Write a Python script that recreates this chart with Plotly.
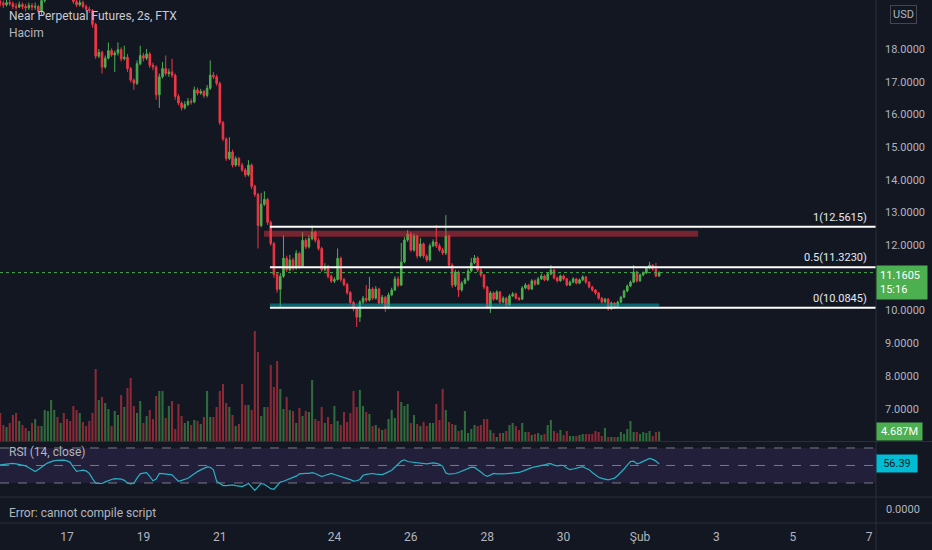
import pandas as pd
import plotly.graph_objects as go

# 2h bars, NEAR-PERP on FTX
bars_start = "2022-01-15 06:00"
first_open = 19.45

closes = [19.40, 19.35, 19.42, 19.38, 19.30, 19.28, 19.36, 19.30, 19.26, 19.33,
          19.28, 19.30, 19.15, 19.48, 19.62, 19.75, 19.85, 19.90, 19.80, 19.85,
          19.75, 19.70, 19.60, 19.45, 19.35, 19.42, 19.30, 19.22, 19.18, 18.75,
          17.78, 17.90, 17.45, 17.72, 17.95, 17.82, 17.88, 17.98, 17.70, 17.75,
          17.40, 17.05, 16.95, 17.55, 17.80, 17.72, 17.85, 17.50, 17.45, 16.60,
          17.15, 17.40, 17.25, 17.30, 17.20, 16.55, 16.35, 16.20, 16.30, 16.40,
          16.38, 16.75, 16.65, 16.70, 16.58, 16.80, 17.20, 17.15, 16.95, 15.75,
          15.25, 14.65, 14.85, 14.45, 14.65, 14.45, 14.30, 14.15, 14.45, 13.80,
          13.55, 12.60, 13.25, 13.40, 12.70, 12.05, 11.10, 10.65, 11.05, 11.60,
          11.25, 11.55, 11.30, 11.75, 11.35, 12.15, 11.95, 12.20, 12.40, 12.15,
          11.90, 11.25, 11.35, 11.05, 10.90, 10.95, 11.60, 10.95, 10.80, 10.55,
          10.25, 10.05, 9.80, 10.26, 10.38, 10.32, 10.66, 10.38, 10.66, 10.23,
          10.41, 10.08, 10.48, 10.63, 10.97, 10.78, 11.49, 12.16, 12.34, 11.85,
          12.28, 11.67, 12.04, 11.67, 11.55, 11.98, 12.10, 11.98, 11.85, 11.76,
          12.28, 11.39, 10.78, 11.18, 10.63, 10.84, 10.94, 11.21, 11.46, 11.61,
          11.24, 11.09, 10.72, 10.11, 10.54, 10.35, 10.57, 10.26, 10.38, 10.17,
          10.45, 10.51, 10.38, 10.35, 10.69, 10.78, 10.66, 10.91, 10.81, 10.97,
          11.06, 10.94, 11.12, 11.24, 11.00, 10.91, 11.06, 10.97, 10.78, 10.87,
          10.97, 10.84, 10.94, 11.03, 10.87, 10.72, 10.63, 10.54, 10.38, 10.26,
          10.35, 10.05, 10.23, 10.11, 10.26, 10.41, 10.60, 10.75, 10.87, 11.18,
          10.91, 11.09, 11.15, 11.30, 11.39, 11.27, 11.06, 11.1605]

highs = [19.55, 19.48, 19.52, 19.50, 19.45, 19.40, 19.45, 19.42, 19.38, 19.42,
         19.40, 19.42, 19.35, 19.55, 19.70, 19.85, 19.95, 20.00, 19.98, 19.95,
         19.90, 19.82, 19.76, 19.65, 19.50, 19.52, 19.48, 19.36, 19.30, 19.22,
         18.80, 18.00, 17.95, 17.80, 18.20, 18.02, 17.95, 18.20, 18.05, 18.10,
         17.85, 17.45, 17.10, 17.65, 18.10, 17.88, 18.00, 17.90, 17.58, 17.50,
         17.25, 17.60, 17.80, 17.40, 17.70, 17.25, 16.62, 16.40, 16.40, 16.50,
         16.48, 16.85, 16.82, 16.78, 16.75, 16.90, 17.65, 17.30, 17.22, 17.00,
         15.80, 15.30, 15.30, 14.92, 14.72, 14.70, 14.52, 14.36, 14.60, 14.50,
         13.85, 13.60, 13.60, 13.65, 13.45, 12.75, 12.10, 11.18, 11.15, 12.30,
         11.68, 11.70, 11.62, 11.85, 11.80, 12.40, 12.22, 12.30, 12.60, 12.45,
         12.22, 11.95, 11.45, 11.40, 11.10, 11.02, 11.90, 11.65, 11.00, 10.85,
         10.60, 10.30, 10.10, 10.32, 10.45, 10.78, 11.03, 10.72, 10.75, 10.70,
         10.48, 10.45, 10.55, 10.70, 11.05, 11.05, 12.07, 12.25, 12.46, 12.40,
         12.35, 12.32, 12.22, 12.08, 11.72, 12.05, 12.18, 12.62, 12.05, 11.92,
         12.92, 12.32, 11.45, 11.25, 11.22, 10.90, 11.00, 11.28, 11.61, 11.70,
         11.66, 11.30, 11.12, 10.76, 10.60, 10.58, 10.62, 10.60, 10.44, 10.42,
         10.50, 10.57, 10.55, 10.42, 10.75, 10.84, 10.82, 10.96, 10.95, 11.03,
         11.12, 11.10, 11.18, 11.39, 11.28, 11.04, 11.10, 11.10, 11.00, 10.92,
         11.02, 11.00, 10.98, 11.08, 11.06, 10.90, 10.76, 10.66, 10.57, 10.42,
         10.39, 10.38, 10.28, 10.26, 10.30, 10.45, 10.64, 10.80, 10.92, 11.39,
         11.22, 11.13, 11.20, 11.34, 11.49, 11.42, 11.46, 11.20]

lows = [19.30, 19.25, 19.30, 19.32, 19.22, 19.20, 19.25, 19.22, 19.15, 19.20,
        19.18, 19.20, 19.08, 19.04, 19.42, 19.58, 19.70, 19.78, 19.72, 19.72,
        19.66, 19.62, 19.52, 19.38, 19.28, 19.30, 19.24, 19.15, 19.10, 18.65,
        17.70, 17.72, 17.25, 17.40, 17.68, 17.76, 17.30, 17.80, 17.62, 17.65,
        17.30, 16.98, 16.75, 16.90, 17.50, 17.62, 17.66, 17.42, 17.35, 16.45,
        16.20, 17.10, 17.18, 17.15, 17.12, 16.45, 16.28, 16.12, 16.15, 16.25,
        16.30, 16.34, 16.58, 16.60, 16.50, 16.52, 16.75, 17.08, 16.88, 15.68,
        15.18, 14.58, 14.60, 14.38, 14.40, 14.40, 14.24, 14.08, 14.10, 13.72,
        13.48, 11.90, 12.55, 13.20, 12.62, 11.98, 11.00, 10.55, 10.10, 11.00,
        11.18, 11.20, 11.22, 11.25, 11.28, 11.30, 11.88, 11.90, 12.15, 12.08,
        11.84, 11.18, 11.20, 10.98, 10.85, 10.84, 10.92, 10.88, 10.74, 10.48,
        10.18, 9.98, 9.50, 9.65, 10.20, 10.25, 10.28, 10.32, 10.34, 10.18,
        10.18, 9.96, 10.04, 10.44, 10.60, 10.72, 10.75, 11.45, 12.10, 11.80,
        11.80, 11.60, 11.62, 11.60, 11.48, 11.50, 11.94, 11.92, 11.80, 11.70,
        11.70, 11.32, 10.70, 10.72, 10.42, 10.58, 10.80, 10.90, 11.18, 11.42,
        11.18, 11.02, 10.65, 10.05, 9.93, 10.30, 10.32, 10.20, 10.22, 10.12,
        10.14, 10.42, 10.34, 10.30, 10.32, 10.65, 10.62, 10.63, 10.76, 10.78,
        10.94, 10.90, 10.90, 11.08, 10.95, 10.86, 10.88, 10.92, 10.74, 10.75,
        10.84, 10.80, 10.81, 10.90, 10.82, 10.68, 10.58, 10.48, 10.33, 10.20,
        10.22, 10.00, 10.02, 10.06, 10.08, 10.22, 10.38, 10.56, 10.72, 10.84,
        10.86, 10.88, 11.05, 11.12, 11.26, 11.22, 11.02, 11.03]

# volume in millions
volumes = [14.0, 8.0, 7.0, 9.0, 13.0, 14.0, 10.0, 8.0, 6.5, 5.0,
           9.0, 11.0, 7.5, 7.5, 15.5, 15.0, 20.5, 15.5, 12.0, 9.0,
           14.0, 11.0, 10.0, 17.5, 15.5, 14.0, 9.5, 7.5, 10.0, 14.0,
           36.0, 20.5, 22.0, 19.0, 16.0, 7.5, 15.0, 13.0, 23.0, 17.0,
           26.5, 31.5, 17.5, 14.0, 20.0, 9.0, 12.5, 15.5, 11.0, 22.5,
           25.0, 25.0, 11.5, 17.5, 20.0, 6.0, 18.5, 12.5, 9.0, 10.0,
           8.0, 10.5, 10.0, 8.5, 12.0, 25.0, 12.0, 12.0, 17.0, 25.0,
           28.5, 19.0, 17.0, 13.0, 7.5, 8.5, 28.5, 18.0, 18.0, 15.5,
           55.0, 44.5, 12.5, 17.0, 17.0, 38.0, 27.0, 40.0, 26.0, 16.0,
           22.0, 15.5, 15.0, 9.0, 16.5, 12.5, 15.0, 14.5, 30.5, 11.0,
           10.0, 17.0, 9.0, 12.0, 8.5, 17.5, 10.0,
           8.0, 14.5, 9.5, 14.0, 25.0, 17.0, 25.5, 17.5, 14.5, 13.5,
           7.5, 8.0, 6.5, 5.5, 6.0, 11.0, 15.5, 11.5, 25.0, 19.5,
           17.5, 18.5, 9.0, 13.0, 8.5, 7.5, 9.5, 7.5, 9.0, 9.0,
           18.5, 10.5, 26.0, 15.5, 9.5, 8.5, 8.0, 5.0, 5.5, 15.0,
           4.0, 6.0, 8.0, 7.5, 8.0, 11.0, 11.0, 5.5, 4.0, 2.0,
           4.0, 4.0, 5.0, 8.0, 9.0, 7.5, 5.5, 9.0, 4.5, 4.5,
           3.0, 3.5, 4.0, 3.0, 3.5, 8.0, 10.5, 5.0, 4.0, 5.5,
           3.0, 5.0, 2.5, 2.5, 2.5, 3.0, 3.5, 3.5, 3.5, 3.5,
           5.0, 4.5, 2.5, 6.5, 2.0, 2.0, 2.0, 2.0, 4.5, 3.5,
           6.0, 10.0, 4.5, 4.5, 3.5, 4.5, 4.0, 5.0, 2.5, 4.5, 4.687]

rsi = [50.7, 51.2, 51.6, 52.0, 52.5, 51.8, 51.0, 50.2, 49.5, 47.5,
       45.0, 43.0, 45.5, 48.5, 50.9, 53.0, 54.5, 55.6, 55.8, 56.0,
       56.2, 55.2, 53.6, 48.0, 43.2, 44.0, 44.7, 43.8, 41.0, 35.0,
       29.8, 29.6, 29.4, 31.2, 33.0, 34.0, 35.0, 35.0, 34.5, 33.0,
       30.0, 29.0, 29.6, 35.5, 40.5, 41.3, 41.8, 37.5, 32.5, 34.5,
       41.0, 40.6, 40.2, 39.7, 39.2, 35.5, 32.0, 33.0, 34.5, 35.3,
       38.0, 41.0, 43.0, 45.0, 47.0, 48.3, 48.0, 45.0, 32.0, 29.0,
       27.0, 27.0, 27.4, 27.7, 27.0, 26.4, 25.8, 27.5, 29.6, 25.5,
       21.5, 25.5, 29.5, 28.5, 26.2, 23.5, 22.8, 27.5, 31.0, 32.0,
       33.4, 35.0, 36.5, 37.8, 40.5, 41.0, 41.0, 41.0, 41.8, 40.8,
       39.0, 37.4, 38.5, 39.8, 41.0, 39.7, 38.6, 37.6, 36.8, 35.3,
       33.8, 32.2, 32.5, 34.0, 38.8, 39.8, 40.6, 40.8, 40.2, 39.5,
       39.6, 41.0, 42.3, 44.5, 48.0, 51.5, 55.0, 56.5, 54.5, 54.0,
       53.5, 52.8, 52.4, 52.0, 51.8, 52.5, 53.0, 52.4, 51.4, 49.0,
       41.5, 40.0, 40.2, 40.8, 42.0, 43.5, 45.2, 46.5, 48.0, 47.8,
       45.5, 42.5, 39.5, 37.5, 39.0, 41.0, 40.5, 40.2, 40.4, 40.6,
       40.9, 41.2, 41.6, 42.0, 43.3, 45.0, 46.4, 47.5, 48.5, 49.0,
       50.0, 50.6, 51.8, 52.0, 50.3, 49.6, 50.2, 50.0, 47.0, 45.2,
       46.0, 46.9, 47.8, 48.6, 46.8, 45.2, 42.0, 39.0, 36.5, 35.3,
       34.2, 33.5, 34.5, 35.5, 38.5, 42.0, 46.0, 50.5, 54.5, 55.0,
       52.0, 53.0, 54.5, 56.0, 58.0, 57.0, 55.0, 51.7]

fib_levels = [12.5615, 11.3230, 10.0845]
fib_names = ["1", "0.5", "0"]
last_price = 11.1605
countdown = "15:16"
rsi_last = "56.39"
vol_last = "4.687M"

date_ticks = ["2022-01-17", "2022-01-19", "2022-01-21", "2022-01-24", "2022-01-26",
              "2022-01-28", "2022-01-30", "2022-02-01", "2022-02-03", "2022-02-05",
              "2022-02-07"]
date_labels = ["17", "19", "21", "24", "26", "28", "30", "Şub", "3", "5", "7"]
# 19 and 11 sit under the USD badge and the last-price tag
price_ticks = [7, 8, 9, 10, 12, 13, 14, 15, 16, 17, 18]

bg = "#131722"
txt = "#b2b5be"
sep = "#2a2e39"
up_col = "#4caf50"
down_col = "#f23645"
font = "Roboto"

times = pd.date_range(bars_start, periods=len(closes), freq="2h")
opens = [first_open] + closes[:-1]
vol_colors = ["#2f6c3b" if c >= o else "#8a2a36" for o, c in zip(opens, closes)]

x_start, x_end = "2022-01-15 05:54", "2022-02-07 04:16"
fib_start = "2022-01-22 07:30"

fig = go.Figure()
fig.add_trace(go.Bar(x=times, y=volumes, marker_color=vol_colors, marker_line_width=0,
                     xaxis="x", yaxis="y", hoverinfo="skip"))
fig.add_trace(go.Candlestick(x=times, open=opens, high=highs, low=lows, close=closes,
                             increasing=dict(line=dict(color=up_col, width=1), fillcolor=up_col),
                             decreasing=dict(line=dict(color=down_col, width=1), fillcolor=down_col),
                             xaxis="x", yaxis="y2"))
fig.add_trace(go.Scatter(x=times, y=rsi, mode="lines", line=dict(color="#27b1c4", width=1.2),
                         xaxis="x", yaxis="y3"))

shapes = []
# RSI band and levels
shapes.append(dict(type="rect", xref="paper", x0=0, x1=1, yref="y3", y0=30, y1=70,
                   fillcolor="#221f3a", line_width=0, layer="below"))
for lv in [70, 50, 30]:
    shapes.append(dict(type="line", xref="paper", x0=0, x1=1, yref="y3", y0=lv, y1=lv,
                       line=dict(color="#787b86", width=1, dash="dash"), layer="below"))
# supply / demand zones
shapes.append(dict(type="rect", xref="x", x0="2022-01-22 03:45", x1="2022-02-02 12:30",
                   yref="y2", y0=12.26, y1=12.44, fillcolor="rgba(242,54,69,0.45)", line_width=0))
shapes.append(dict(type="rect", xref="x", x0=fib_start, x1="2022-02-01 12:00",
                   yref="y2", y0=10.12, y1=10.22, fillcolor="rgba(0,151,167,0.6)", line_width=0))
# fib levels
for lv in fib_levels:
    shapes.append(dict(type="line", xref="x", x0=fib_start, x1=x_end, yref="y2", y0=lv, y1=lv,
                       line=dict(color="#ffffff", width=2)))
# last price line
shapes.append(dict(type="line", xref="paper", x0=0, x1=1, yref="y2", y0=last_price, y1=last_price,
                   line=dict(color=up_col, width=1, dash="dot")))
# pane separators
for yp in [(523 - 441.5) / 523, (523 - 497) / 523, 0]:
    shapes.append(dict(type="line", xref="paper", x0=0, x1=932 / 876, yref="paper", y0=yp, y1=yp,
                       line=dict(color=sep, width=1)))
shapes.append(dict(type="line", xref="paper", x0=1, x1=1, yref="paper", y0=-27 / 523, y1=1,
                   line=dict(color=sep, width=1)))

ann = []
ann.append(dict(text="Near Perpetual Futures, 2s, FTX", xref="paper", yref="paper", x=0, y=(523 - 16) / 523,
                xanchor="left", yanchor="middle", xshift=7, showarrow=False,
                font=dict(family=font, size=12, color="#c8cbd2")))
ann.append(dict(text="Hacim", xref="paper", yref="paper", x=0, y=(523 - 33) / 523,
                xanchor="left", yanchor="middle", xshift=7, showarrow=False,
                font=dict(family=font, size=12, color=txt)))
ann.append(dict(text="RSI (14, close)", xref="paper", yref="paper", x=0, y=(523 - 452) / 523,
                xanchor="left", yanchor="middle", xshift=7, showarrow=False,
                font=dict(family=font, size=12, color=txt)))
ann.append(dict(text="Error: cannot compile script", xref="paper", yref="paper", x=0, y=(523 - 513) / 523,
                xanchor="left", yanchor="middle", xshift=7, showarrow=False,
                font=dict(family=font, size=12, color=txt)))
ann.append(dict(text="0.0000", xref="paper", yref="paper", x=1, y=(523 - 509) / 523,
                xanchor="left", yanchor="middle", xshift=8, showarrow=False,
                font=dict(family=font, size=11, color=txt)))
ann.append(dict(text="USD", xref="paper", yref="paper", x=903.5 / 876, y=(523 - 15) / 523,
                xanchor="center", yanchor="middle", showarrow=False, bgcolor=bg,
                bordercolor="#434651", borderwidth=1, borderpad=2,
                font=dict(family=font, size=11, color=txt)))
for lv, nm in zip(fib_levels, fib_names):
    ann.append(dict(text=f"{nm}({lv:.4f})", xref="paper", yref="y2", x=869 / 876, y=lv,
                    xanchor="right", yanchor="bottom", yshift=1, showarrow=False,
                    font=dict(family=font, size=11, color="#e6e8ee")))
ann.append(dict(text=f"{last_price:.4f}<br>{countdown}", xref="paper", yref="y2", x=1, y=last_price,
                xanchor="left", yanchor="top", yshift=8, showarrow=False, align="left",
                bgcolor=up_col, borderpad=3, width=44,
                font=dict(family=font, size=11, color="#ffffff")))
ann.append(dict(text=vol_last, xref="paper", yref="y", x=1, y=volumes[-1],
                xanchor="left", yanchor="middle", showarrow=False,
                bgcolor=up_col, borderpad=2, width=41,
                font=dict(family=font, size=11, color="#ffffff")))
ann.append(dict(text=rsi_last, xref="paper", yref="y3", x=1, y=rsi[-1],
                xanchor="left", yanchor="middle", showarrow=False,
                bgcolor="#00bcd4", borderpad=2, width=36,
                font=dict(family=font, size=11, color="#131722")))

fig.update_layout(
    width=932, height=550, autosize=False,
    margin=dict(l=0, r=56, t=0, b=27),
    paper_bgcolor=bg, plot_bgcolor=bg,
    showlegend=False, bargap=0.35,
    shapes=shapes, annotations=ann,
    xaxis=dict(range=[x_start, x_end], anchor="free", position=0, showgrid=False,
               zeroline=False, showline=False, ticks="", tickvals=date_ticks, ticktext=date_labels,
               ticklabelstandoff=5,
               tickfont=dict(family=font, size=12, color=txt), rangeslider=dict(visible=False)),
    yaxis=dict(domain=[(523 - 441) / 523, 1], range=[0, 220.5], visible=False, fixedrange=True),
    yaxis2=dict(overlaying="y", side="right", anchor="x", range=[6.0122, 19.4985],
                tickvals=price_ticks, tickformat=".4f", showgrid=False, zeroline=False,
                showline=False, ticks="", ticklabelstandoff=8,
                tickfont=dict(family=font, size=11, color=txt)),
    yaxis3=dict(domain=[(523 - 496) / 523, (523 - 443) / 523], range=[15.1, 75.7], anchor="x",
                side="right", showticklabels=False, showgrid=False, zeroline=False, showline=False),
)

# drop the page margin so the chart fills the window
fig.write_html("out.html", config={"displayModeBar": False},
               post_script="document.body.style.margin='0';document.body.style.background='#131722';")
